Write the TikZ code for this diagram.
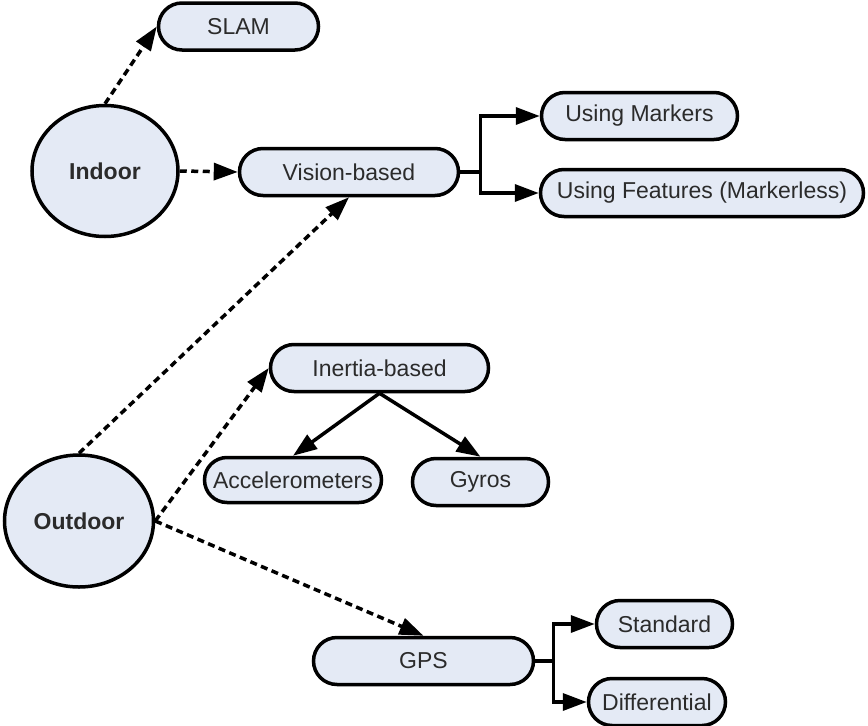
\documentclass[tikz,border=0pt]{standalone}
\usepackage{fontspec}
\setmainfont{Liberation Sans}
\usetikzlibrary{arrows.meta,shapes.geometric}
\definecolor{boxfill}{HTML}{E4EAF5}
\definecolor{txt}{HTML}{2B2B2B}
\begin{document}
\begin{tikzpicture}[x=1pt,y=-1pt,
  every node/.style={font=\fontsize{23}{27}\selectfont, text=txt},
  pill/.style={draw=black, line width=3.5pt, fill=boxfill, rounded corners=23.5pt, inner sep=0pt, minimum height=47pt},
  zone/.style={draw=black, line width=3.5pt, fill=boxfill, ellipse, inner sep=0pt, font=\fontsize{23}{27}\selectfont\bfseries},
  dasharrow/.style={line width=3.5pt, dash pattern=on 7pt off 4.5pt, -{Triangle[length=24pt,width=17pt]}},
  solidarrow/.style={line width=3.5pt, -{Triangle[length=24pt,width=17pt]}}
]
\useasboundingbox (0,0) rectangle (868,726);
\fill[white] (0,0) rectangle (868,726);

\node[zone, minimum width=146pt, minimum height=131pt] (indoor) at (105,171) {Indoor};
\node[zone, minimum width=149pt, minimum height=132pt] (outdoor) at (79,521) {Outdoor};

\node[pill, minimum width=160pt] (slam) at (238.5,26.5) {SLAM};
\node[pill, minimum width=219pt] (vision) at (349,172) {Vision-based};
\node[pill, minimum width=196pt] (markers) at (639.5,116) {Using Markers};
\node[pill, minimum width=323pt] (features) at (702,193) {Using Features (Markerless)};
\node[pill, minimum width=218pt] (inertia) at (379.5,368) {Inertia-based};
\node[pill, minimum width=177pt, minimum height=45pt, rounded corners=22.5pt] (accel) at (293,480) {Accelerometers};
\node[pill, minimum width=136pt] (gyros) at (480.5,482) {Gyros};
\node[pill, minimum width=220pt] (gps) at (423.5,661) {GPS};
\node[pill, minimum width=136pt] (standard) at (664.5,624) {Standard};
\node[pill, minimum width=137pt] (diff) at (657,702) {Differential};

\draw[dasharrow] (indoor.north) -- (slam.west);
\draw[dasharrow] (indoor.east) -- (vision.west);
\draw[dasharrow] (outdoor.north) -- (vision.south);
\draw[dasharrow] (outdoor.east) -- (inertia.west);
\draw[dasharrow] (outdoor.east) -- (gps.north);

\coordinate (vb) at ([xshift=20pt]vision.east);
\draw[line width=3.5pt] (vision.east) -- (vb);
\draw[solidarrow] (vb) |- (markers.west);
\draw[solidarrow] (vb) |- (features.west);

\draw[solidarrow] (inertia.south) -- (accel.north);
\draw[solidarrow] (inertia.south) -- (gyros.north);

\coordinate (gb) at ([xshift=18pt]gps.east);
\draw[line width=3.5pt] (gps.east) -- (gb);
\draw[solidarrow] (gb) |- (standard.west);
\draw[solidarrow] (gb) |- (diff.west);
\end{tikzpicture}
\end{document}
